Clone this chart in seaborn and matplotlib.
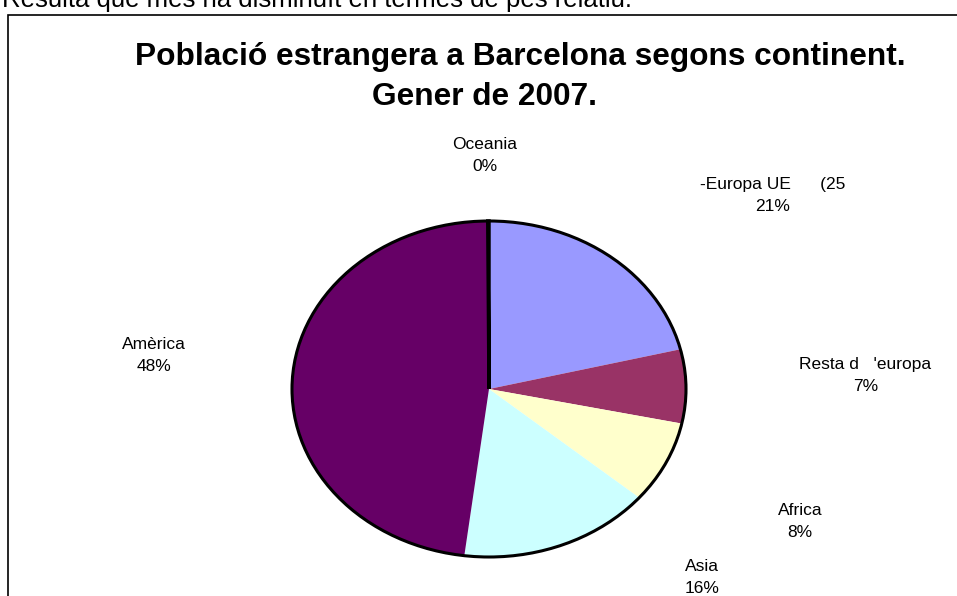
import matplotlib
matplotlib.use("Agg")
import matplotlib.pyplot as plt
from matplotlib.patches import Circle, Rectangle
import seaborn as sns

# ---------------------------------------------------------------------------
# Data
# ---------------------------------------------------------------------------
continents = ["-Europa UE      (25", "Resta d   'europa", "Africa", "Asia", "Amèrica", "Oceania"]
shares = [21.2, 7.1, 7.9, 15.8, 47.9, 0.1]
pct_labels = ["21%", "7%", "8%", "16%", "48%", "0%"]
colors = ["#9999FF", "#993366", "#FFFFCC", "#CCFFFF", "#660066", "#FF8080"]

# label block centres, in pie radius units (Excel "best fit" placement)
label_pos = [(1.44, 1.15), (1.91, 0.08), (1.58, -0.79), (1.08, -1.12), (-1.70, 0.20), (-0.02, 1.39)]

title_1 = "Població estrangera a Barcelona segons continent."
title_2 = "Gener de 2007."
top_text = "Resulta que més ha disminuït en termes de pes relatiu."

# ---------------------------------------------------------------------------
# Style
# ---------------------------------------------------------------------------
sns.set_theme(style="white")
plt.rcParams["font.family"] = ["Liberation Sans", "DejaVu Sans"]
plt.rcParams["text.color"] = "black"

W, H = 957, 596
fig = plt.figure(figsize=(W / 100, H / 100), dpi=100)
ax = fig.add_axes([0, 0, 1, 1])

# pie centre and radii in pixels (the pie is drawn squashed, as in Excel)
cx, cy, rx, ry = 489, H - 389, 197, 168

wedges, _ = ax.pie(
    shares,
    colors=colors,
    startangle=90,
    counterclock=False,
    radius=1,
    wedgeprops={"linewidth": 0},
)
# the Oceania sliver shows up as a black radial line
wedges[-1].set_edgecolor("black")
wedges[-1].set_linewidth(2.5)
ax.add_patch(Circle((0, 0), 1, fill=False, edgecolor="black", linewidth=2.2, zorder=5))

ax.set_aspect("auto")
ax.set_xlim(-cx / rx, (W - cx) / rx)
ax.set_ylim(-cy / ry, (H - cy) / ry)
ax.axis("off")

for name, pct, (lx, ly) in zip(continents, pct_labels, label_pos):
    ax.text(lx, ly, f"{name}\n{pct}", ha="center", va="center",
            fontsize=12.5, color="black", linespacing=1.6)

# titles
fig.text(520 / W, 1 - 57 / H, title_1, ha="center", va="center",
         fontsize=22.8, fontweight="bold")
fig.text(485 / W, 1 - 97 / H, title_2, ha="center", va="center",
         fontsize=22.8, fontweight="bold")

# sentence above the chart, cut by the top edge
fig.text(2 / W, 1 - 7 / H, top_text, ha="left", va="baseline",
         fontsize=18.5, color="black")

# chart frame
fig.add_artist(Rectangle((8 / W, -0.1), 1.2, 1.1 - 15 / H, transform=fig.transFigure,
                         fill=False, edgecolor="black", linewidth=1.2))

fig.savefig("out.png", dpi=100)
